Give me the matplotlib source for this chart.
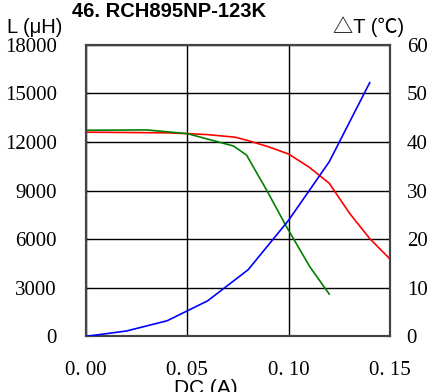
import matplotlib
matplotlib.use("Agg")
import matplotlib.pyplot as plt

# Data
dc_L = [0.0, 0.02, 0.04, 0.05, 0.06, 0.0736, 0.08, 0.09, 0.10, 0.11, 0.12, 0.13, 0.14, 0.15]
L_red = [12600, 12580, 12560, 12510, 12450, 12290, 12080, 11700, 11250, 10450, 9450, 7600, 6030, 4770]

dc_G = [0.0, 0.03, 0.05, 0.0727, 0.0792, 0.0891, 0.0989, 0.1104, 0.12]
L_green = [12720, 12740, 12510, 11750, 11190, 9030, 6770, 4300, 2610]

dc_T = [0.0, 0.02, 0.04, 0.06, 0.08, 0.10, 0.12, 0.14]
dT_blue = [0.0, 1.1, 3.2, 7.3, 13.7, 23.9, 35.9, 52.2]

x_ticks = [0.0, 0.05, 0.10, 0.15]
x_labels = ["0. 00", "0. 05", "0. 10", "0. 15"]
yl_ticks = [0, 3000, 6000, 9000, 12000, 15000, 18000]
yr_ticks = [0, 10, 20, 30, 40, 50, 60]

title = "46. RCH895NP-123K"

fig = plt.figure(figsize=(4.30, 3.92), dpi=100)
ax = fig.add_axes([0.2, 0.142, 0.707, 0.744])
ax2 = ax.twinx()

serif = ["Liberation Serif", "DejaVu Serif"]
sans = ["Liberation Sans", "Noto Sans CJK SC", "DejaVu Sans"]

ax.plot(dc_L, L_red, color="#ff0000", lw=1.2, zorder=3)
ax.plot(dc_G, L_green, color="#008000", lw=1.2, zorder=3)
ax2.plot(dc_T, dT_blue, color="#0000ff", lw=1.2, zorder=3)

ax.set_xlim(0, 0.15)
ax.set_ylim(0, 18000)
ax2.set_ylim(0, 60)

ax.set_xticks(x_ticks)
ax.set_xticklabels(x_labels, fontfamily=serif, fontsize=15)
ax.set_yticks(yl_ticks)
ax.set_yticklabels([str(v) for v in yl_ticks], fontfamily=serif, fontsize=15)
ax2.set_yticks(yr_ticks)
ax2.set_yticklabels([str(v) for v in yr_ticks], fontfamily=serif, fontsize=15)

ax.tick_params(axis="x", length=0, pad=18)
ax.tick_params(axis="y", length=3, direction="in", pad=21)
ax2.tick_params(axis="y", length=3, direction="in", pad=12)

ax.grid(True, color="black", lw=1.0)
for a in (ax, ax2):
    for s in a.spines.values():
        s.set_color("#444444")
        s.set_linewidth(1.5)

fig.text(0.392, 0.957, title, ha="center", va="baseline", fontsize=14.5,
         fontweight="bold", family=sans)
fig.text(0.016, 0.915, "L (μH)", ha="left", va="baseline", fontsize=14.5, family=sans)
fig.text(0.94, 0.916, "△T (℃)", ha="right", va="baseline", fontsize=14.5, family=sans)
fig.text(0.479, -0.004, "DC (A)", ha="center", va="baseline", fontsize=15, family=sans)

fig.savefig("out.png", dpi=100)
